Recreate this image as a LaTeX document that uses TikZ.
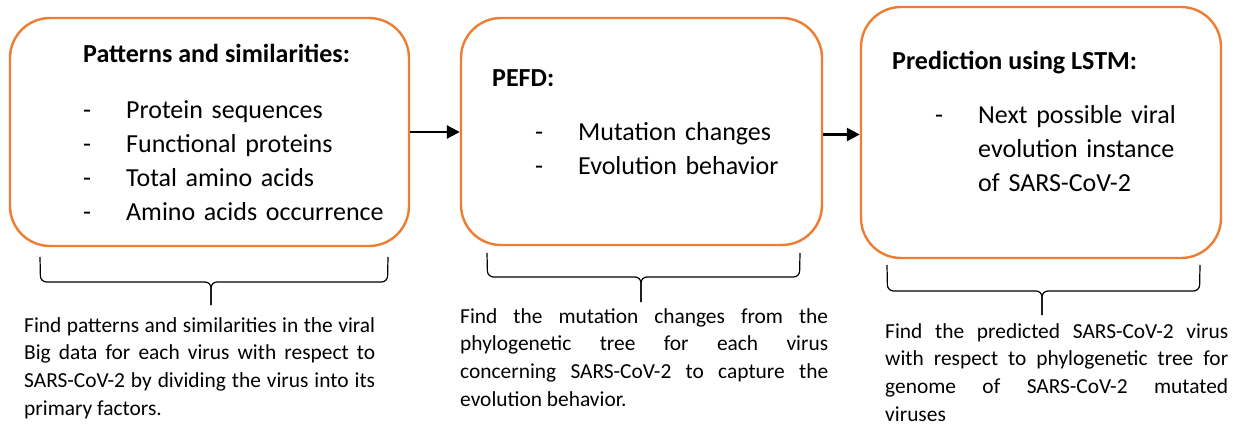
\documentclass[tikz,border=0pt]{standalone}
\usepackage{fontspec}
\setmainfont{Carlito}
\usetikzlibrary{arrows.meta,positioning}
\definecolor{boxorange}{HTML}{ED7D31}

\begin{document}
\begin{tikzpicture}[
x=1pt,y=-1pt,
stage/.style={draw=boxorange,line width=2.4pt,rounded corners=40pt,inner sep=0pt},
head/.style={anchor=base west,inner sep=0pt,font=\fontsize{26}{34.3}\selectfont\bfseries},
items/.style={anchor=base west,inner sep=0pt,text width=340pt,align=left,font=\fontsize{26}{34.3}\selectfont},
note/.style={anchor=base west,inner sep=0pt,align=justify,font=\fontsize{21.4}{27.7}\selectfont},
brace/.style={line width=1.2pt,rounded corners=6pt},
arr/.style={-{Triangle[length=13pt,width=13pt]},line width=2.5pt}
]
\useasboundingbox (0,0) rectangle (1238,425);

% the three stages
\node[stage,minimum width=399pt,minimum height=228pt] (pat) at (209.5,132) {};
\node[stage,minimum width=361pt,minimum height=227pt] (pefd) at (641.5,131.5) {};
\node[stage,minimum width=360pt,minimum height=251pt] (lstm) at (1041,132.5) {};

\node[head] (patT) at (83,63) {Patterns and similarities:};
\node[items] (patL) at (83,118) {\makebox[43pt][l]{-}Protein sequences\\
\makebox[43pt][l]{-}Functional proteins\\
\makebox[43pt][l]{-}Total amino acids\\
\makebox[43pt][l]{-}Amino acids occurrence};

\node[head] (pefdT) at (492,87) {PEFD:};
\node[items] (pefdL) at (535,140) {\makebox[43pt][l]{-}Mutation changes\\
\makebox[43pt][l]{-}Evolution behavior};

\node[head] (lstmT) at (892,70) {Prediction using LSTM:};
\node[items] (lstmL) at (935,123) {\makebox[43pt][l]{-}Next possible viral\\
\hspace*{43pt}evolution instance\\
\hspace*{43pt}of SARS-CoV-2};

\draw[arr] (pat.east) -- (pat.east -| pefd.west);
\draw[arr] ([yshift=-3pt]pefd.east) -- ([yshift=-3pt]pefd.east -| lstm.west);

% braces and what each stage does
\draw[brace] (40,257) -- (40.5,282) -- (211,282) -- (211,305);
\draw[brace] (388,257) -- (387.5,282) -- (211,282) -- (211,305);
\draw[brace] (487,253) -- (487.5,277) -- (641,277) -- (641,302);
\draw[brace] (800,253) -- (799.5,277) -- (641,277) -- (641,302);
\draw[brace] (887,265) -- (887.5,291) -- (1042,291) -- (1042,315);
\draw[brace] (1200,265) -- (1199.5,291) -- (1042,291) -- (1042,315);

\node[note,text width=351pt] (patN) at (24,332) {Find patterns and similarities in the viral\linebreak
Big data for each virus with respect to\linebreak
SARS-CoV-2 by dividing the virus into its\linebreak
primary factors.};
\node[note,text width=368pt] (pefdN) at (460,323) {Find the mutation changes from the\linebreak
phylogenetic tree for each virus\linebreak
concerning SARS-CoV-2 to capture the\linebreak
evolution behavior.};
\node[note,text width=343pt] (lstmN) at (885,338) {Find the predicted SARS-CoV-2 virus\linebreak
with respect to phylogenetic tree for\linebreak
genome of SARS-CoV-2 mutated\linebreak
viruses};
\end{tikzpicture}
\end{document}
